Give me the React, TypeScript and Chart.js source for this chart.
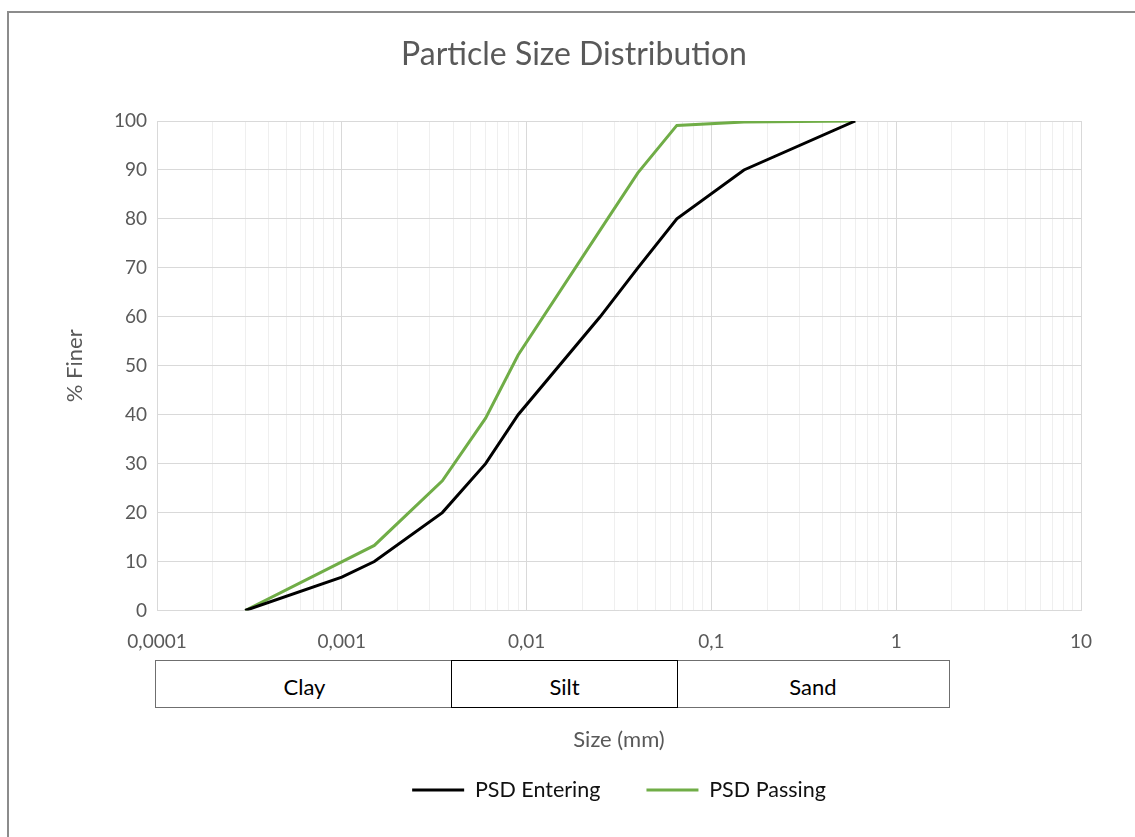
import React, { useEffect, useRef } from 'react';
import { Chart, registerables } from 'chart.js';

Chart.register(...registerables);

// ---- data ----
const enteringSizes = [0.0003, 0.001, 0.0015, 0.0035, 0.006, 0.009, 0.025, 0.04, 0.065, 0.15, 0.6];
const enteringFiner = [0, 6.8, 10, 20, 30, 40, 60, 70, 80, 90, 100];
const passingSizes = [0.0003, 0.0015, 0.0035, 0.006, 0.009, 0.025, 0.04, 0.065, 0.15, 0.6];
const passingFiner = [0, 13.3, 26.5, 39.3, 52.2, 77.7, 89.4, 99.1, 99.8, 100];
const xDecades = [0.0001, 0.001, 0.01, 0.1, 1, 10];
const xTickLabels = ['0,0001', '0,001', '0,01', '0,1', '1', '10'];
const yTickValues = [0, 10, 20, 30, 40, 50, 60, 70, 80, 90, 100];
const seriesNames = ['PSD Entering', 'PSD Passing'];
const soilClasses = ['Clay', 'Silt', 'Sand'];

const FONT = 'Lato, "Open Sans", "Noto Sans", sans-serif';
const GREY_TEXT = '#595959';

const isDecade = (v: number) => {
  const l = Math.log10(v);
  return Math.abs(l - Math.round(l)) < 1e-9;
};

const shiftPlugin = {
  id: 'shiftBlocks',
  afterLayout(chart: any) {
    const ca = chart.chartArea;
    const lg = chart.legend;
    if (lg) {
      const d = (ca.left + ca.right) / 2 - (lg.left + lg.right) / 2;
      lg.left += d;
      lg.right += d;
    }
    const tb = chart.titleBlock;
    if (tb) {
      const d = 574 - (tb.left + tb.right) / 2;
      tb.left += d;
      tb.right += d;
    }
  },
};

export default function App() {
  const ref = useRef<HTMLCanvasElement | null>(null);

  useEffect(() => {
    if (!ref.current) return;
    const gridTicks: number[] = [];
    for (let i = 0; i < xDecades.length; i++) {
      gridTicks.push(xDecades[i]);
      if (i < xDecades.length - 1) {
        for (let m = 2; m <= 9; m++) gridTicks.push(xDecades[i] * m);
      }
    }
    const chart = new Chart(ref.current, {
      type: 'line',
      data: {
        datasets: [
          {
            label: seriesNames[0],
            data: enteringSizes.map((x, i) => ({ x, y: enteringFiner[i] })),
            borderColor: '#000000',
            backgroundColor: '#000000',
            borderWidth: 3,
            pointRadius: 0,
            tension: 0,
            fill: false,
          },
          {
            label: seriesNames[1],
            data: passingSizes.map((x, i) => ({ x, y: passingFiner[i] })),
            borderColor: '#70ad47',
            backgroundColor: '#70ad47',
            borderWidth: 3,
            pointRadius: 0,
            tension: 0,
            fill: false,
          },
        ],
      },
      options: {
        responsive: false,
        animation: false,
        devicePixelRatio: 1,
        layout: { padding: { left: 0, right: 54, top: 0, bottom: 26.25 } },
        plugins: {
          title: {
            display: true,
            text: 'Particle Size Distribution',
            color: GREY_TEXT,
            font: { family: FONT, size: 32, weight: 'normal' as any, lineHeight: 1.2 },
            padding: { top: 35.8, bottom: 46.8 },
          },
          legend: {
            position: 'bottom',
            labels: {
              usePointStyle: true,
              pointStyle: 'line',
              pointStyleWidth: 52,
              color: '#111111',
              font: { family: FONT, size: 21.5 },
              padding: 46,
            },
          },
          tooltip: { enabled: false },
        },
        scales: {
          x: {
            type: 'logarithmic',
            min: xDecades[0],
            max: xDecades[xDecades.length - 1],
            afterBuildTicks: (scale: any) => {
              scale.ticks = gridTicks.map((v) => ({ value: v }));
            },
            afterFit: (scale: any) => {
              scale.height = 122.75;
            },
            ticks: {
              autoSkip: false,
              maxRotation: 0,
              padding: 19.5,
              color: GREY_TEXT,
              font: { family: FONT, size: 19 },
              callback: (value: any) => {
                const v = Number(value);
                const idx = xDecades.findIndex((d) => Math.abs(d - v) / d < 1e-9);
                return idx >= 0 ? xTickLabels[idx] : '';
              },
            },
            grid: {
              drawTicks: false,
              lineWidth: 1,
              color: (ctx: any) => (ctx.tick && isDecade(ctx.tick.value) ? '#d9d9d9' : '#efefef'),
            },
            border: { color: '#d9d9d9' },
            title: {
              display: true,
              text: 'Size (mm)',
              color: GREY_TEXT,
              font: { family: FONT, size: 22, lineHeight: 1.2 },
              padding: { top: 0, bottom: -19.95 },
            },
          },
          y: {
            type: 'linear',
            min: yTickValues[0],
            max: yTickValues[yTickValues.length - 1],
            afterBuildTicks: (scale: any) => {
              scale.ticks = yTickValues.map((v) => ({ value: v }));
            },
            afterFit: (scale: any) => {
              scale.width = 157;
            },
            ticks: {
              padding: 10,
              color: GREY_TEXT,
              font: { family: FONT, size: 19 },
            },
            grid: { drawTicks: false, color: '#d9d9d9', lineWidth: 1 },
            border: { color: '#d9d9d9' },
            title: {
              display: true,
              text: '% Finer',
              color: GREY_TEXT,
              font: { family: FONT, size: 22, lineHeight: 1.2 },
              padding: { top: 61.8, bottom: 0 },
            },
          },
        },
      },
      plugins: [shiftPlugin],
    } as any);
    return () => chart.destroy();
  }, []);

  const boxBase: React.CSSProperties = {
    position: 'absolute',
    top: 660,
    height: 48,
    boxSizing: 'border-box',
    display: 'flex',
    alignItems: 'center',
    justifyContent: 'center',
    fontFamily: FONT,
    fontSize: 22,
    color: '#000',
    background: '#fff',
    paddingTop: 4,
  };

  return (
    <div style={{ position: 'absolute', left: 0, top: 0, width: 1135, height: 837, overflow: 'hidden', background: '#fff' }}>
      <div
        style={{
          position: 'absolute',
          left: 7,
          top: 11,
          width: 1200,
          height: 900,
          borderLeft: '2px solid #8c8c8c',
          borderTop: '2px solid #8c8c8c',
          boxSizing: 'border-box',
        }}
      />
      <canvas ref={ref} width={1135} height={837} style={{ position: 'absolute', left: 0, top: 0, width: 1135, height: 837 }} />
      <div style={{ ...boxBase, left: 155, width: 298, border: '1.5px solid #6f6f6f', borderRight: 'none' }}>{soilClasses[0]}</div>
      <div style={{ ...boxBase, left: 677, width: 273, border: '1.5px solid #6f6f6f', borderLeft: 'none' }}>{soilClasses[2]}</div>
      <div style={{ ...boxBase, left: 451, width: 227, border: '1.5px solid #000', zIndex: 2 }}>{soilClasses[1]}</div>
    </div>
  );
}
